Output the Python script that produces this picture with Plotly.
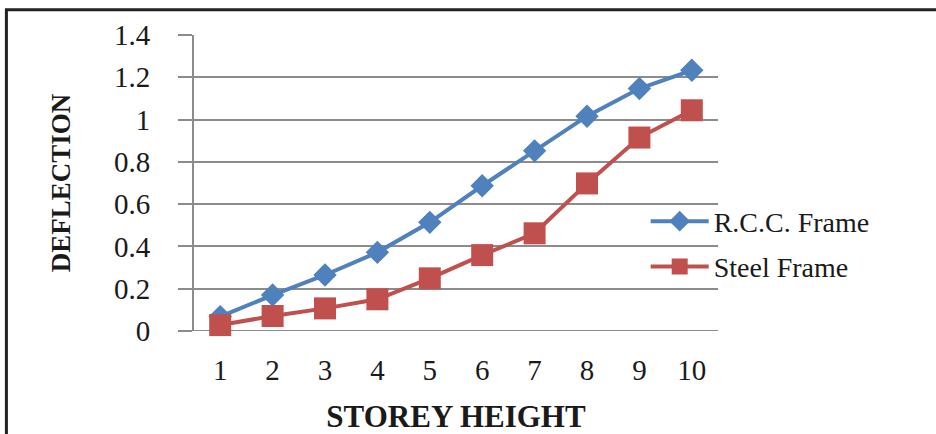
import plotly.graph_objects as go

storey = [1, 2, 3, 4, 5, 6, 7, 8, 9, 10]
rcc_frame = [0.068, 0.17, 0.265, 0.372, 0.514, 0.687, 0.852, 1.016, 1.147, 1.233]
steel_frame = [0.028, 0.071, 0.107, 0.15, 0.249, 0.359, 0.462, 0.698, 0.915, 1.044]
y_ticks = [0, 0.2, 0.4, 0.6, 0.8, 1, 1.2, 1.4]
y_tick_text = ["0", "0.2", "0.4", "0.6", "0.8", "1", "1.2", "1.4"]

FONT = "Liberation Serif"
TXT = "#1a1a1a"

fig = go.Figure()
fig.add_trace(go.Scatter(
    x=[str(s) for s in storey], y=rcc_frame, name="R.C.C. Frame", mode="lines+markers",
    line=dict(color="#4f81bd", width=4),
    marker=dict(symbol="diamond", size=18, color="#4f81bd"),
    legendgroup="a", cliponaxis=False,
))
fig.add_trace(go.Scatter(
    x=[str(s) for s in storey], y=steel_frame, name="Steel Frame", mode="lines+markers",
    line=dict(color="#c0504d", width=4),
    marker=dict(symbol="square", size=22, color="#c0504d"),
    legendgroup="b", cliponaxis=False,
))

fig.update_layout(
    width=936, height=434,
    margin=dict(l=194, r=218, t=35, b=103),
    paper_bgcolor="white", plot_bgcolor="white",
    font=dict(family=FONT, color=TXT, size=28),
    showlegend=True,
    legend=dict(x=0.862, y=0.294, xanchor="left", yanchor="middle",
                font=dict(family=FONT, size=28, color=TXT),
                bgcolor="rgba(0,0,0,0)", tracegroupgap=6, itemwidth=58),
    xaxis=dict(type="category", range=[-0.5, 9.5], showgrid=False, showline=False, ticks="",
               zeroline=False, ticklabelstandoff=19,
               tickfont=dict(family=FONT, size=29, color=TXT),
               title=dict(text="<b>STOREY HEIGHT</b>", standoff=22,
                          font=dict(family=FONT, size=31, color=TXT)),
               automargin=False),
    yaxis=dict(range=[0, 1.4], tickvals=y_ticks, ticktext=y_tick_text,
               showgrid=True, gridcolor="#8c8c8c", gridwidth=2,
               showline=True, linecolor="#8c8c8c", linewidth=2,
               ticks="outside", ticklen=14, tickcolor="#8c8c8c", tickwidth=2,
               zeroline=False, ticklabelstandoff=22,
               tickfont=dict(family=FONT, size=29, color=TXT),
               title=dict(text="<b>DEFLECTION</b>", standoff=36,
                          font=dict(family=FONT, size=27, color=TXT)),
               automargin=False),
    shapes=[
        dict(type="line", xref="paper", yref="y", x0=0, x1=1, y0=0, y1=0,
             line=dict(color="#8c8c8c", width=2), layer="below"),
        dict(type="rect", xref="paper", yref="paper", x0=-0.358, x1=1.45,
             y0=-0.4, y1=1.085, line=dict(color="#222222", width=3),
             fillcolor="rgba(0,0,0,0)"),
    ],
)

fig.write_html("out.html")
